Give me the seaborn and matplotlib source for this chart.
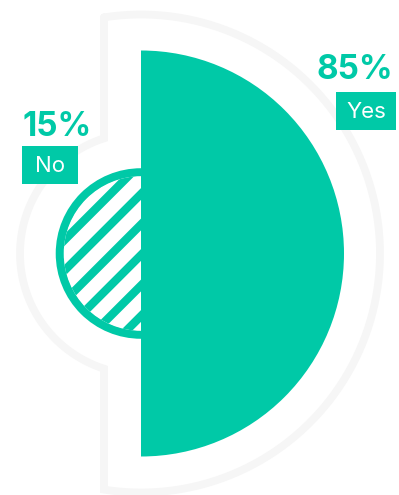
import numpy as np
import matplotlib
matplotlib.use("Agg")
import matplotlib.pyplot as plt
from matplotlib.patches import Wedge, Rectangle
import seaborn as sns

# Survey answers
labels = ["Yes", "No"]
values = [85, 15]
pct_text = [f"{v}%" for v in values]

sns.set_theme(style="white")
plt.rcParams["font.family"] = ["Inter", "DejaVu Sans"]

TEAL = "#00C9A7"
FRAME = "#F6F6F6"

W, H = 399, 495
fig = plt.figure(figsize=(W / 100, H / 100), dpi=100)
ax = fig.add_axes([0, 0, 1, 1])
ax.set_xlim(0, W)
ax.set_ylim(H, 0)
ax.axis("off")

cx, cy = 141, 253.5
scale = 203 / np.sqrt(max(values))          # pixels per sqrt(percent)
radii = [scale * np.sqrt(v) for v in values]
r_yes, r_no = radii

# Light frame hugging both halves
R_out, r_out, x_cut = 239, 121, 104
a_big = np.degrees(np.arccos((x_cut - cx) / R_out))
a_small = np.degrees(np.arccos((x_cut - cx) / r_out))
t1 = np.radians(np.linspace(a_big, -a_big, 400))             # right-hand arc, top -> bottom
t2 = np.radians(np.linspace(360 - a_small, a_small, 200))    # left-hand arc, bottom -> top
big_x, big_y = cx + R_out * np.cos(t1), cy - R_out * np.sin(t1)
sm_x, sm_y = cx + r_out * np.cos(t2), cy - r_out * np.sin(t2)
fx = np.concatenate([big_x, sm_x, [big_x[0]]])
fy = np.concatenate([big_y, sm_y, [big_y[0]]])
ax.plot(fx, fy, color=FRAME, lw=5.6, solid_joinstyle="miter", zorder=1)

# "No": hatched left half-disc with a solid rim
ring_w = 8.5
ax.add_patch(Wedge((cx, cy), r_no, 90, 270, width=ring_w, color=TEAL, lw=0, zorder=2))
inner = Wedge((cx, cy), r_no - ring_w + 0.5, 90, 270, facecolor="white", lw=0, zorder=2)
ax.add_patch(inner)
for c in np.arange(274, 520, 30.5):
    xs = np.array([cx - r_no - 10, cx + 10])
    line, = ax.plot(xs, c - xs, color=TEAL, lw=6.0, solid_capstyle="butt", zorder=3)
    line.set_clip_path(inner)

# "Yes": solid right half-disc
ax.add_patch(Wedge((cx, cy), r_yes, -90, 90, color=TEAL, lw=0, zorder=4))

# Labels
ax.text(393, 79, pct_text[0], color=TEAL, fontsize=24, fontweight="bold",
        ha="right", va="baseline", zorder=5)
ax.add_patch(Rectangle((336, 92), 60, 38, color=TEAL, lw=0, zorder=5))
ax.text(366, 112, labels[0], color="white", fontsize=16, ha="center", va="center", zorder=6)

ax.text(22, 136, pct_text[1], color=TEAL, fontsize=24, fontweight="bold",
        ha="left", va="baseline", zorder=5)
ax.add_patch(Rectangle((22, 146), 56, 38, color=TEAL, lw=0, zorder=5))
ax.text(50, 166, labels[1], color="white", fontsize=16, ha="center", va="center", zorder=6)

fig.savefig("out.png", dpi=100, facecolor="white")
